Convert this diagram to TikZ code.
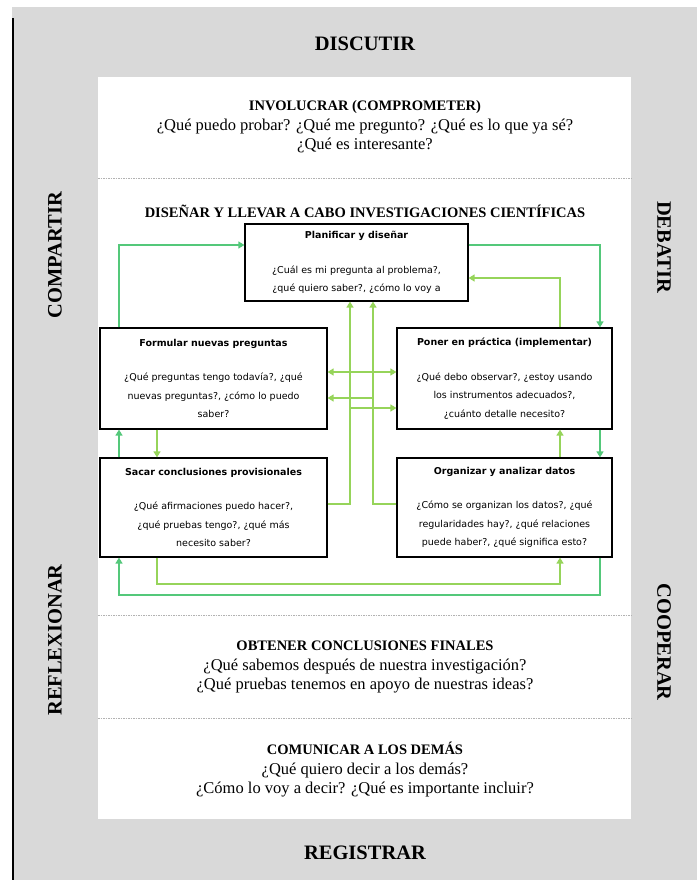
\documentclass[tikz,border=0pt]{standalone}
\usepackage{fontspec}
\setmainfont{Liberation Serif}
\newfontfamily\boxfont{DejaVu Sans}
\usetikzlibrary{arrows.meta}
\definecolor{bandgray}{RGB}{217,217,217}
\definecolor{darkg}{RGB}{84,200,122}
\definecolor{lightg}{RGB}{150,212,90}

\begin{document}
\begin{tikzpicture}[x=1pt,y=-1pt,inner sep=0pt,
        side/.style={font=\bfseries\fontsize{20.5}{24}\selectfont},
        block/.style={align=center,font=\fontsize{16.5}{19.5}\selectfont},
        head/.style={font=\bfseries\fontsize{14.5}{19.5}\selectfont},
        stage/.style={draw=black,line width=1.2pt,fill=white,align=center,
                font=\boxfont\fontsize{9.5}{18.5}\selectfont},
        dk/.style={draw=darkg,line width=1.4pt,-{Triangle[length=6pt,width=7pt]}},
        lt/.style={draw=lightg,line width=1.4pt,-{Triangle[length=6pt,width=7pt]}},
        sep/.style={draw=gray!60,line width=1pt,dash pattern=on 1.5pt off 1pt}]
        \useasboundingbox (0,0) rectangle (697,880);

        \fill[bandgray] (12,7) rectangle (697,880);
        \draw[line width=1.5pt] (13,18) -- (13,880);
        \fill[white] (98,77) rectangle (631,819);
        \foreach \y in {178,615,718} {
                \draw[sep] (98,\y) -- (631,\y);
        }

        \node[side] (discutir) at (365,44) {DISCUTIR};
        \node[side] (registrar) at (365,853) {REGISTRAR};
        \node[side,rotate=90] (compartir) at (55,255) {COMPARTIR};
        \node[side,rotate=90] (reflexionar) at (55,640) {REFLEXIONAR};
        \node[side,rotate=-90] (debatir) at (664,247) {DEBATIR};
        \node[side,rotate=-90] (cooperar) at (664,642) {COOPERAR};

        \node[block] (involucrar) at (365,127) {{\bfseries\fontsize{14.5}{19.5}\selectfont INVOLUCRAR (COMPROMETER)}\\
                ¿Qué puedo probar? ¿Qué me pregunto? ¿Qué es lo que ya sé?\\¿Qué es interesante?};
        \node[block] (obtener) at (365,667) {{\bfseries\fontsize{14.5}{19.5}\selectfont OBTENER CONCLUSIONES FINALES}\\
                ¿Qué sabemos después de nuestra investigación?\\¿Qué pruebas tenemos en apoyo de nuestras ideas?};
        \node[block] (comunicar) at (365,770) {{\bfseries\fontsize{14.5}{19.5}\selectfont COMUNICAR A LOS DEMÁS}\\
                ¿Qué quiero decir a los demás?\\¿Cómo lo voy a decir? ¿Qué es importante incluir?};
        \node[head] (disenar) at (365,211) {DISEÑAR Y LLEVAR A CABO INVESTIGACIONES CIENTÍFICAS};

        \node[stage,minimum width=223pt,minimum height=77pt] (plan) at (356.5,262.5)
                {\textbf{Planificar y diseñar}\\[16pt]¿Cuál es mi pregunta al problema?,\\¿qué quiero saber?, ¿cómo lo voy a};
        \node[stage,minimum width=227pt,minimum height=101pt] (form) at (213.5,378.5)
                {\textbf{Formular nuevas preguntas}\\[16pt]¿Qué preguntas tengo todavía?, ¿qué\\nuevas preguntas?, ¿cómo lo puedo\\saber?};
        \node[stage,minimum width=215pt,minimum height=101pt] (poner) at (504.5,378.5)
                {\textbf{Poner en práctica (implementar)}\\[16pt]¿Qué debo observar?, ¿estoy usando\\los instrumentos adecuados?,\\¿cuánto detalle necesito?};
        \node[stage,minimum width=227pt,minimum height=99pt] (sacar) at (213.5,507.5)
                {\textbf{Sacar conclusiones provisionales}\\[16pt]¿Qué afirmaciones puedo hacer?,\\¿qué pruebas tengo?, ¿qué más\\necesito saber?};
        \node[stage,minimum width=215pt,minimum height=99pt] (organ) at (504.5,507.5)
                {\textbf{Organizar y analizar datos}\\[16pt]¿Cómo se organizan los datos?, ¿qué\\regularidades hay?, ¿qué relaciones\\puede haber?, ¿qué significa esto?};

        \coordinate (xa) at (119,0);
        \coordinate (xb) at (157,0);
        \coordinate (xc) at (350,0);
        \coordinate (xd) at (373,0);
        \coordinate (xe) at (560,0);
        \coordinate (xf) at (600,0);
        \coordinate (ya) at (0,245);
        \coordinate (yc) at (0,278);
        \coordinate (yd) at (0,372);
        \coordinate (ye) at (0,398);
        \coordinate (yf) at (0,408);
        \coordinate (yg) at (0,504);
        \coordinate (yh) at (0,584);
        \coordinate (yi) at (0,595);

        \draw[dk] (form.north -| xa) |- (plan.west |- ya);
        \draw[dk] (plan.east |- ya) -| (poner.north -| xf);
        \draw[lt] (poner.north -| xe) |- (plan.east |- yc);
        \draw[dk] (sacar.north -| xa) -- (form.south -| xa);
        \draw[lt] (form.south -| xb) -- (sacar.north -| xb);
        \draw[dk] (poner.south -| xf) -- (organ.north -| xf);
        \draw[lt] (organ.north -| xe) -- (poner.south -| xe);
        \draw[lt] (sacar.south -| xb) |- (xe |- yh) -- (organ.south -| xe);
        \draw[dk] (organ.south -| xf) |- (xa |- yi) -- (sacar.south -| xa);
        \draw[lt] (sacar.east |- yg) -| (plan.south -| xc);
        \draw[lt] (organ.west |- yg) -| (plan.south -| xd);
        \draw[lt,{Triangle[length=6pt,width=7pt]}-{Triangle[length=6pt,width=7pt]}] (form.east |- yd) -- (poner.west |- yd);
        \draw[lt] (xd |- ye) -- (form.east |- ye);
        \draw[lt] (xc |- yf) -- (poner.west |- yf);

\end{tikzpicture}
\end{document}
